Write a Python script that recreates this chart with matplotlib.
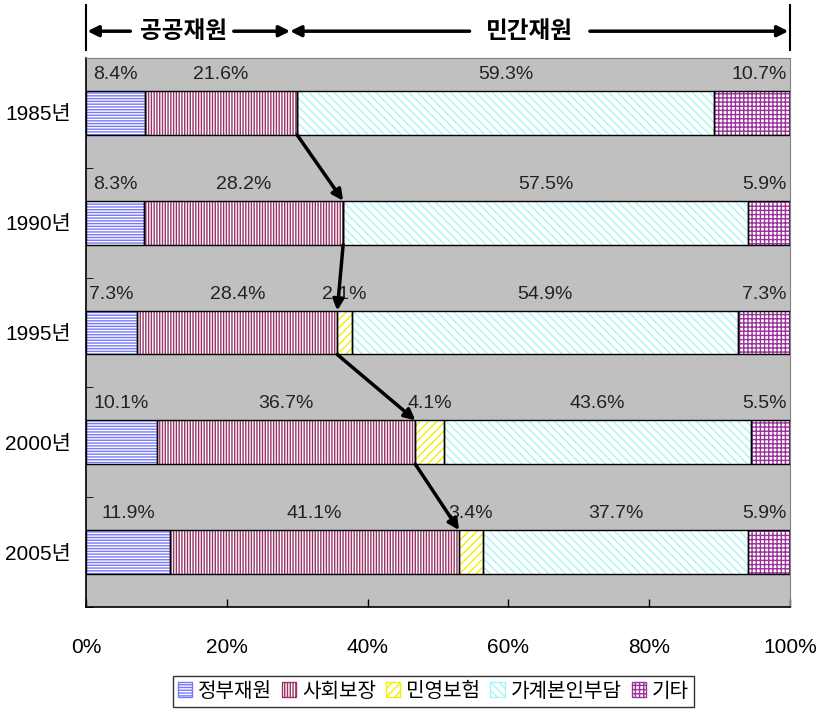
import numpy as np
import matplotlib
matplotlib.use("Agg")
import matplotlib.pyplot as plt
from matplotlib.patches import Patch

plt.rcParams['font.family'] = ['Liberation Sans', 'Noto Sans CJK KR']
plt.rcParams['hatch.linewidth'] = 1.0

years = ["1985년", "1990년", "1995년", "2000년", "2005년"]
series = ["정부재원", "사회보장", "민영보험", "가계본인부담", "기타"]
gov = [8.4, 8.3, 7.3, 10.1, 11.9]
social = [21.6, 28.2, 28.4, 36.7, 41.1]
private_ins = [0.0, 0.0, 2.1, 4.1, 3.4]
household = [59.3, 57.5, 54.9, 43.6, 37.7]
other = [10.7, 5.9, 7.3, 5.5, 5.9]

hatch_colors = ["#7878FF", "#993366", "#F0F000", "#A8F4F4", "#993399"]
hatches = ["------", "||||||", "////", "\\\\\\\\", "++++"]

data = np.array([gov, social, private_ins, household, other])
shares = data / data.sum(axis=0) * 100

fig = plt.figure(figsize=(8.27, 7.11), dpi=100)
ax = fig.add_axes([0.104, 0.1463, 0.851, 0.772])
ax.set_facecolor("#C0C0C0")

y = np.arange(len(years))
left = np.zeros(len(years))
bar_h = 0.4
for k in range(len(series)):
    ax.barh(y, shares[k], left=left, height=bar_h, color="white",
            edgecolor=hatch_colors[k], hatch=hatches[k], linewidth=0, zorder=2)
    ax.barh(y, shares[k], left=left, height=bar_h, color="none",
            edgecolor="black", linewidth=1.0, zorder=3)
    for i in range(len(years)):
        if data[k, i] <= 0:
            continue
        if k == len(series) - 1:
            ax.text(99.6, y[i] - 0.35, f"{data[k, i]:.1f}%", ha="right", va="center",
                    fontsize=14, color="#222222")
        else:
            ax.text(left[i] + shares[k, i] / 2, y[i] - 0.35, f"{data[k, i]:.1f}%",
                    ha="center", va="center", fontsize=14, color="#222222")
    left += shares[k]

# arrows following the public share (정부재원 + 사회보장)
public_end = shares[0] + shares[1]
for i in range(len(years) - 1):
    ax.annotate("", xy=(public_end[i + 1], y[i + 1] - bar_h / 2),
                xytext=(public_end[i], y[i] + bar_h / 2),
                arrowprops=dict(arrowstyle="-|>", lw=2.5, color="black",
                                mutation_scale=16, shrinkA=0, shrinkB=0),
                zorder=5)

ax.set_xlim(0, 100)
ax.set_ylim(len(years) - 0.5, -0.5)
ax.set_xticks([0, 20, 40, 60, 80, 100])
ax.set_xticklabels(["0%", "20%", "40%", "60%", "80%", "100%"], fontsize=15)
ax.tick_params(axis="x", direction="in", length=6, pad=22, width=1)
ax.set_yticks(y)
ax.set_yticklabels(years, fontsize=15)
ax.tick_params(axis="y", length=0, pad=11)
ax.set_yticks(np.arange(-0.5, len(years)), minor=True)
ax.tick_params(axis="y", which="minor", direction="in", length=5)
for s in ["top", "right"]:
    ax.spines[s].set_color("#808080")
for s in ["left", "bottom"]:
    ax.spines[s].set_color("black")
    ax.spines[s].set_linewidth(1.2)

# header brackets: 공공재원 / 민간재원
tr = ax.get_xaxis_transform()
for xv in [0, 100]:
    ax.plot([xv, xv], [1.015, 1.097], transform=tr, color="black", lw=1.5, clip_on=False)
ya = 1.049
arr = dict(arrowstyle="-|>", lw=2.5, color="black", mutation_scale=16, shrinkA=0, shrinkB=0)
split = 29.0
ax.annotate("", xy=(0.2, ya), xytext=(6.3, ya), xycoords=tr, textcoords=tr, arrowprops=arr)
ax.annotate("", xy=(split, ya), xytext=(21.0, ya), xycoords=tr, textcoords=tr, arrowprops=arr)
ax.annotate("", xy=(split, ya), xytext=(54.5, ya), xycoords=tr, textcoords=tr, arrowprops=arr)
ax.annotate("", xy=(99.8, ya), xytext=(71.6, ya), xycoords=tr, textcoords=tr, arrowprops=arr)
ax.text(13.8, ya, "공공재원", transform=tr, ha="center", va="center", fontsize=17,
        fontweight="bold", family="Noto Sans CJK KR")
ax.text(63.0, ya, "민간재원", transform=tr, ha="center", va="center", fontsize=17,
        fontweight="bold", family="Noto Sans CJK KR")

handles = [Patch(facecolor="white", edgecolor=hatch_colors[k], hatch=hatches[k])
           for k in range(len(series))]
leg = fig.legend(handles, series, loc="center", bbox_to_anchor=(0.524, 0.028), ncol=5,
                 fontsize=14.5, frameon=True, fancybox=False, edgecolor="black",
                 handlelength=0.7, handleheight=0.7, handletextpad=0.3,
                 columnspacing=0.5, borderpad=0.25, borderaxespad=0)
leg.get_frame().set_linewidth(1.0)
for t in leg.get_texts():
    t.set_family("Noto Sans CJK KR")

fig.savefig("out.png", dpi=100)
